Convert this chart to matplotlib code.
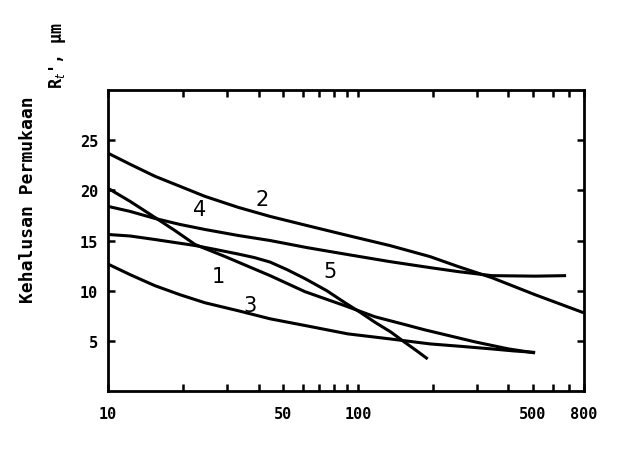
import matplotlib.pyplot as plt
import numpy as np

# kecepatan / sumbu x (log) dan kekasaran permukaan Rt (um)
x_c2 = [10, 12.25, 15.4, 19.4, 24.4, 33.2, 44.5, 62.3, 91, 134, 194, 252, 343, 511, 800]
y_c2 = [23.7, 22.6, 21.4, 20.4, 19.4, 18.3, 17.4, 16.5, 15.5, 14.5, 13.4, 12.4, 11.3, 9.6, 7.8]

x_c4 = [10, 12.25, 15.4, 19.4, 24.4, 33.2, 44.5, 62.3, 91, 134, 194, 252, 343, 511, 680]
y_c4 = [18.4, 17.9, 17.2, 16.6, 16.1, 15.5, 15.0, 14.3, 13.6, 12.9, 12.3, 11.9, 11.5, 11.45, 11.5]

x_c1 = [10, 12.25, 15.4, 18.5, 22.3, 29.4, 35, 44.5, 61.4, 88.7, 117, 150, 185, 294, 400, 511]
y_c1 = [20.2, 18.9, 17.3, 16.0, 14.6, 13.4, 12.6, 11.5, 9.9, 8.5, 7.4, 6.7, 6.1, 4.9, 4.2, 3.8]

x_c5 = [10, 12.25, 15.4, 22.3, 27, 33.2, 38.5, 44.5, 52, 61.4, 75, 88.7, 102, 117, 135, 154, 172, 190]
y_c5 = [15.6, 15.45, 15.1, 14.5, 14.1, 13.65, 13.3, 12.85, 12.1, 11.2, 10.0, 8.8, 7.85, 6.85, 5.9, 4.85, 4.0, 3.2]

x_c3 = [10, 12.25, 15.4, 19.4, 24.4, 33.2, 44.5, 62.3, 91, 134, 194, 260, 343, 420, 511]
y_c3 = [12.65, 11.6, 10.5, 9.6, 8.8, 8.0, 7.2, 6.5, 5.7, 5.2, 4.7, 4.45, 4.2, 4.0, 3.85]

curves = [(x_c1, y_c1), (x_c2, y_c2), (x_c3, y_c3), (x_c4, y_c4), (x_c5, y_c5)]

# posisi nomor kurva
label_text = ["1", "2", "3", "4", "5"]
label_x = [27.5, 41.3, 37, 23.3, 77.3]
label_y = [11.45, 19.1, 8.6, 18.1, 12.0]

x_ticks = [10, 20, 30, 40, 50, 60, 70, 80, 90, 100, 200, 300, 400, 500, 600, 700, 800]
x_tick_labels = {10: "10", 50: "50", 100: "100", 500: "500", 800: "800"}
y_ticks = [5, 10, 15, 20, 25]

mono = "DejaVu Sans Mono"

fig = plt.figure(figsize=(6.21, 4.64), dpi=100)
ax = fig.add_axes([0.174, 0.155, 0.766, 0.649])

for xs, ys in curves:
    ax.plot(xs, ys, color="black", linewidth=2.2, solid_capstyle="butt")

for t, lx, ly in zip(label_text, label_x, label_y):
    ax.text(lx, ly, t, fontsize=15, ha="center", va="center", family="DejaVu Sans")

ax.set_xscale("log")
ax.set_xlim(10, 800)
ax.set_ylim(0, 30)

ax.set_xticks(x_ticks)
ax.set_xticklabels([x_tick_labels.get(v, "") for v in x_ticks])
ax.minorticks_off()
ax.set_yticks(y_ticks)
ax.set_yticklabels([str(v) for v in y_ticks])

ax.tick_params(axis="both", which="both", direction="in", length=5, width=1.8,
               top=True, right=True, labelsize=11)
ax.tick_params(axis="x", pad=11)
ax.tick_params(axis="y", pad=7)
for lab in ax.get_xticklabels() + ax.get_yticklabels():
    lab.set_family(mono)
    lab.set_fontweight("bold")

for spine in ax.spines.values():
    spine.set_linewidth(2.0)

fig.text(0.045, 0.569, "Kehalusan Permukaan", rotation=90, ha="center", va="center",
         fontsize=13, family=mono, fontweight="bold")
fig.text(0.092, 0.881, r"R$_t$', μm", rotation=90, ha="center", va="center",
         fontsize=12, family=mono, fontweight="bold")

fig.savefig("out.png", dpi=100)
